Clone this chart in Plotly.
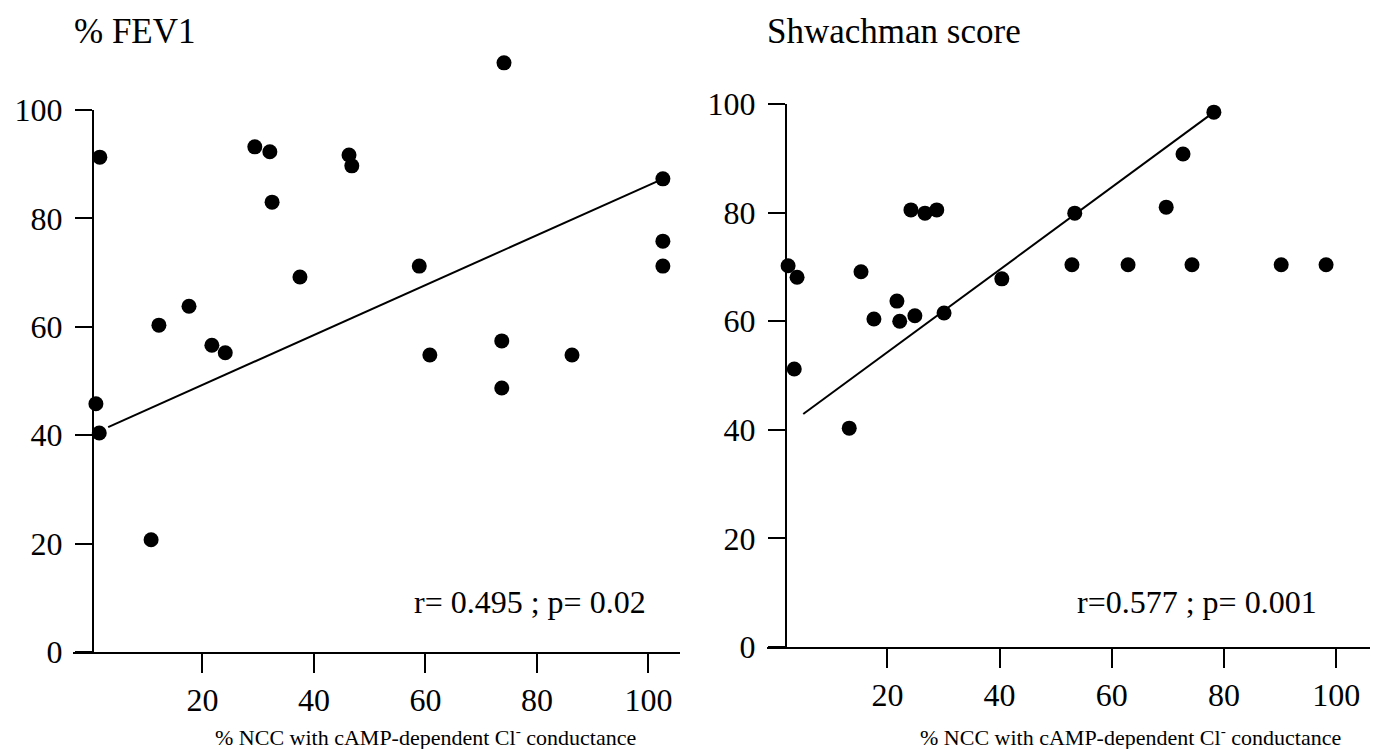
import plotly.graph_objects as go

# ---- data: left panel (% FEV1) ----
fev_x = [0.9, 1.5, 1.6, 10.8, 12.2, 17.6, 21.7, 24.1, 29.4, 32.1, 32.5, 37.5,
         46.3, 46.8, 58.9, 60.8, 74.1, 73.7, 73.7, 86.3, 102.6, 102.6, 102.6]
fev_y = [45.8, 40.4, 91.3, 20.7, 60.3, 63.8, 56.6, 55.2, 93.2, 92.3, 83.0, 69.2,
         91.7, 89.7, 71.2, 54.8, 108.7, 57.4, 48.7, 54.8, 87.3, 75.8, 71.2]
fev_fit_x = [3.1, 102.6]
fev_fit_y = [41.5, 87.3]

# ---- data: right panel (Shwachman score) ----
shw_x = [2.3, 3.9, 3.4, 13.2, 15.3, 17.6, 21.7, 22.2, 24.9, 24.2, 26.7, 28.8,
         30.1, 40.4, 52.9, 53.4, 62.9, 69.7, 72.7, 74.3, 78.2, 90.2, 98.2]
shw_y = [70.2, 68.1, 51.2, 40.3, 69.1, 60.4, 63.7, 60.0, 61.0, 80.5, 79.9, 80.5,
         61.5, 67.8, 70.4, 79.9, 70.4, 81.0, 90.8, 70.4, 98.5, 70.4, 70.4]
shw_fit_x = [5.0, 78.2]
shw_fit_y = [42.9, 98.5]

x_ticks = [20, 40, 60, 80, 100]
y_ticks = [0, 20, 40, 60, 80, 100]

W, H = 1391, 749
OFF = 8  # page body margin offset
FONT = "Liberation Serif"


def px(v):
    return (v - OFF) / W


def py(v):
    return 1 - (v - OFF) / H


# panel pixel geometry
L_Y0, L_SCALE = 652, 5.42
R_Y0, R_SCALE = 647, 5.43
L_DATA_TOP = 115  # data axis upper value (so the >100 point is drawn)

fig = go.Figure()

# carrier so the visible 0-100 left axis is drawn
fig.add_trace(go.Scatter(x=[None], y=[None], mode="markers", xaxis="x", yaxis="y3",
                         showlegend=False, hoverinfo="skip"))
fig.add_trace(go.Scatter(x=fev_x, y=fev_y, mode="markers", xaxis="x", yaxis="y",
                         marker=dict(size=15, color="black"), cliponaxis=False,
                         showlegend=False))
fig.add_trace(go.Scatter(x=fev_fit_x, y=fev_fit_y, mode="lines", xaxis="x", yaxis="y",
                         line=dict(color="black", width=2), showlegend=False))
fig.add_trace(go.Scatter(x=shw_x, y=shw_y, mode="markers", xaxis="x2", yaxis="y2",
                         marker=dict(size=15, color="black"), cliponaxis=False,
                         showlegend=False))
fig.add_trace(go.Scatter(x=shw_fit_x, y=shw_fit_y, mode="lines", xaxis="x2", yaxis="y2",
                         line=dict(color="black", width=2), showlegend=False))

tickfont = dict(family=FONT, size=32, color="black")
common_x = dict(showgrid=False, zeroline=False, showline=True, linecolor="black",
                linewidth=2, ticks="outside", ticklen=19, tickwidth=2,
                tickcolor="black", tickvals=x_ticks, tickfont=tickfont,
                ticklabelstandoff=0, automargin=False)
common_y = dict(showgrid=False, zeroline=False, showline=True, linecolor="black",
                linewidth=2, ticks="outside", ticklen=17, tickwidth=2,
                tickcolor="black", tickvals=y_ticks, tickfont=tickfont,
                ticklabelstandoff=6, range=[0, 100], automargin=False)

fig.update_layout(
    width=W, height=H,
    margin=dict(l=0, r=0, t=0, b=0, pad=0, autoexpand=False),
    paper_bgcolor="white", plot_bgcolor="rgba(0,0,0,0)",
    # left panel: data axis (hidden) + visible axis with 0..100
    xaxis=dict(domain=[px(73), px(680)], range=[-3.21, 105.67], anchor="y", **common_x),
    yaxis=dict(domain=[py(L_Y0), py(L_Y0 - L_SCALE * L_DATA_TOP)],
               range=[0, L_DATA_TOP], visible=False, automargin=False),
    yaxis3=dict(domain=[py(L_Y0), py(L_Y0 - L_SCALE * 100)], anchor="free",
                position=px(93), **common_y),
    # right panel
    xaxis2=dict(domain=[px(767), px(1370)], range=[-1.46, 106.03], anchor="y2", **common_x),
    yaxis2=dict(domain=[py(R_Y0), py(R_Y0 - R_SCALE * 100)], anchor="free",
                position=px(786), **common_y),
)

ann_font = dict(family=FONT, size=32, color="black")
lab_font = dict(family=FONT, size=22, color="black")
title_font = dict(family=FONT, size=35, color="black")
annotations = [
    dict(text="% FEV1", x=px(72), y=py(31), xanchor="left", yanchor="middle",
         font=title_font),
    dict(text="Shwachman score", x=px(765), y=py(31), xanchor="left", yanchor="middle",
         font=title_font),
    dict(text="r= 0.495 ; p= 0.02", x=px(530), y=py(602), xanchor="center",
         yanchor="middle", font=ann_font),
    dict(text="r=0.577 ; p= 0.001", x=px(1197), y=py(602), xanchor="center",
         yanchor="middle", font=ann_font),
    dict(text="% NCC with cAMP-dependent Cl<sup>-</sup> conductance", x=px(425),
         y=py(736), xanchor="center", yanchor="middle", font=lab_font),
    dict(text="% NCC with cAMP-dependent Cl<sup>-</sup> conductance", x=px(1130),
         y=py(736), xanchor="center", yanchor="middle", font=lab_font),
]
for a in annotations:
    a.update(xref="paper", yref="paper", showarrow=False)
fig.update_layout(annotations=annotations)

fig.write_html("out.html")
